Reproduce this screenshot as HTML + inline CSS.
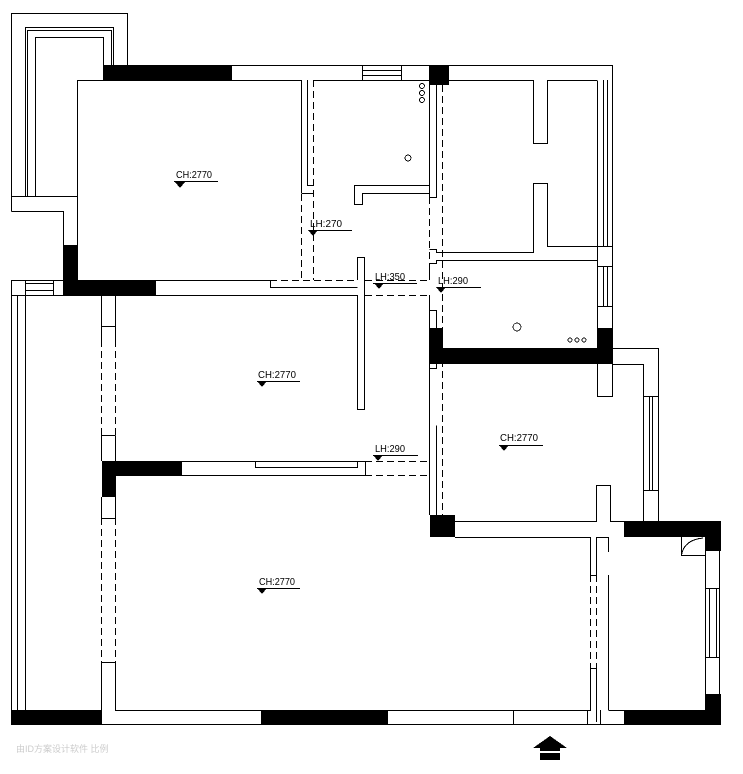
<!DOCTYPE html>
<html><head><meta charset="utf-8"><style>
html,body{margin:0;padding:0;background:#fff;width:743px;height:774px;overflow:hidden}
svg{display:block}
text{font-family:"Liberation Sans Narrow","Liberation Sans",sans-serif;font-size:10px;fill:#000}
</style></head><body>
<svg width="743" height="774" viewBox="0 0 743 774" xmlns="http://www.w3.org/2000/svg" shape-rendering="crispEdges">
<g fill="none" stroke="#000" stroke-width="1">
<path d="M11.5 211.5V13.5H127.5V65"/>
<path d="M25.5 196V27.5H113.5V65"/>
<path d="M27.5 196V30.5H111.5V65"/>
<path d="M35.5 196V37.5H103.5V65"/>
<path d="M11.5 196.5H77"/>
<path d="M11.5 211.5H63.5V245"/>
<path d="M103 65.5H612.5V364"/>
<path d="M77.5 280V80.5H301.5V193"/>
<path d="M307.5 80V185.5H313.5"/>
<path d="M313.5 80.5H429.5V185.5H354.5V204.5H362.5V193.5H429.5"/>
<path d="M449 80.5H533.5M547.5 80.5H597"/>
<path d="M362.5 65V80M401.5 65V80M362 70.5H401M362 75.5H401"/>
<path d="M301.5 193.5H313.5"/>
<path d="M301.5 194V280M313.5 80V280" stroke-dasharray="7,4"/>
<path d="M11.5 280.5H270.5V287.5H357.5"/>
<path d="M270 280.5H357" stroke-dasharray="7,4"/>
<path d="M11.5 295.5H357"/>
<path d="M365 295.5H429" stroke-dasharray="7,4"/>
<path d="M365 280.5H429" stroke-dasharray="7,4"/>
<path d="M357.5 295V409.5H364.5V257.5H357.5V280"/>
<path d="M11.5 280V724M17.5 295V710M25.5 295V710M25.5 283.5H53.5M25.5 290.5H53.5M53.5 280V295M25.5 280V295"/>
<path d="M101.5 295V340M115.5 295V340M101.5 326.5H115.5"/>
<path d="M101.5 340V435M115.5 340V435" stroke-dasharray="7,4"/>
<path d="M101.5 435V461M115.5 435.5V461M101.5 435.5H115.5"/>
<path d="M101.5 497V518M115.5 497V518M101.5 518.5H115.5"/>
<path d="M101.5 518V662M115.5 518V662" stroke-dasharray="7,4"/>
<path d="M101.5 662.5H115.5V710.5H590.5V668.5H596.5V722M101.5 662V724"/>
<path d="M182 461.5H365M182 475.5H365"/>
<path d="M255.5 461V467.5H357.5V461"/>
<path d="M365.5 461V475.5"/>
<path d="M365 461.5H429M365 475.5H429" stroke-dasharray="7,4"/>
<path d="M429.5 85V197.5H436.5V85"/>
<path d="M442.5 85V515" stroke-dasharray="7,4"/>
<path d="M429.5 197V280" stroke-dasharray="7,4"/>
<path d="M533.5 80V143.5H547.5V80"/>
<path d="M429.5 249.5H436.5V252.5H533.5V183.5H547.5V246.5H612"/>
<path d="M429.5 263.5H436.5V260.5H597.5V348M429.5 280V263"/>
<path d="M597.5 246V348M603.5 80V246M607.5 80V246M597.5 80.5V246"/>
<path d="M597 266.5H612M597 306.5H612M603.5 266V306M607.5 266V306"/>
<path d="M429.5 310.5H436.5V328M429.5 295V328"/>
<path d="M429.5 364V515M436.5 364V368.5H429.5"/>
<path d="M436.5 425.5V515"/>
<path d="M612 348.5H658.5V522M612 364.5H643.5V522M597.5 364V396.5H612.5V364"/>
<path d="M643 396.5H658M643 490.5H658M649.5 396V490M652.5 396V490"/>
<path d="M455 521.5H596.5V485.5H610.5V521.5H625M455 537.5H590.5V575.5H596.5V537.5H608.5V552M608.5 575V668"/>
<path d="M590.5 575V668M596.5 575V668" stroke-dasharray="7,4"/>
<path d="M608.5 668V710"/>
<path d="M608.5 710.5H625M600.5 710V724M587.5 710V724M513.5 710V724M101 724.5H720"/>
<path d="M705.5 550V694M719.5 550V694M705 588.5H720M705 657.5H720M709.5 588V657M716.5 588V657"/>
<path d="M681.5 537V555.5H705M681.5 555Q684 540 703 538"/>
</g>
<g fill="#000">
<rect x="103" y="65" width="129" height="16"/>
<rect x="63" y="245" width="14" height="50"/>
<rect x="63" y="280" width="93" height="15"/>
<rect x="429" y="65" width="20" height="20"/>
<rect x="429" y="328" width="14" height="36"/>
<rect x="597" y="328" width="15" height="36"/>
<rect x="429" y="348" width="183" height="16"/>
<rect x="102" y="461" width="80" height="15"/>
<rect x="102" y="461" width="14" height="36"/>
<rect x="430" y="515" width="25" height="22"/>
<rect x="624" y="521" width="97" height="16"/>
<rect x="705" y="521" width="16" height="30"/>
<rect x="705" y="694" width="16" height="30"/>
<rect x="624" y="710" width="97" height="15"/>
<rect x="11" y="710" width="91" height="15"/>
<rect x="261" y="710" width="127" height="15"/>
</g>
<g fill="none" stroke="#000" stroke-width="0.8">
<circle cx="422" cy="86" r="2.5"/><circle cx="422" cy="93" r="2.5"/><circle cx="422" cy="100" r="2.5"/>
<circle cx="408" cy="158" r="3"/>
<circle cx="517" cy="327" r="4"/>
<circle cx="570" cy="340" r="2"/><circle cx="577" cy="340" r="2"/><circle cx="584" cy="340" r="2"/>
</g>
<g stroke="#000" stroke-width="1">
<path d="M174 181.5H218M310 230.5H352M373 283.5H417M437 287.5H481M257 381.5H300M373 455.5H418M499 445.5H543M257 588.5H300"/>
</g>
<g fill="#000">
<polygon points="175,182 185,182 180,188"/>
<polygon points="308,230 318,230 313,236"/>
<polygon points="374,283 384,283 379,289"/>
<polygon points="436,287 446,287 441,293"/>
<polygon points="257,381 267,381 262,387"/>
<polygon points="373,455 383,455 378,461"/>
<polygon points="499,445 509,445 504,451"/>
<polygon points="257,588 267,588 262,594"/>
</g>
<text x="176" y="178" textLength="36" lengthAdjust="spacingAndGlyphs">CH:2770</text>
<text x="310" y="227" textLength="32" lengthAdjust="spacingAndGlyphs">LH:270</text>
<text x="375" y="280" textLength="30" lengthAdjust="spacingAndGlyphs">LH:350</text>
<text x="438" y="284" textLength="30" lengthAdjust="spacingAndGlyphs">LH:290</text>
<text x="258" y="378" textLength="38" lengthAdjust="spacingAndGlyphs">CH:2770</text>
<text x="375" y="452" textLength="30" lengthAdjust="spacingAndGlyphs">LH:290</text>
<text x="500" y="441" textLength="38" lengthAdjust="spacingAndGlyphs">CH:2770</text>
<text x="259" y="585" textLength="36" lengthAdjust="spacingAndGlyphs">CH:2770</text>
<polygon points="533,748 550,736 567,748" fill="#000"/>
<rect x="540" y="748" width="20" height="3" fill="#000"/>
<rect x="540" y="753" width="20" height="7" fill="#000"/>
<text x="16" y="752" style="font-size:9px;fill:#ccc">由ID方案设计软件 比例</text>
</svg>
</body></html>
